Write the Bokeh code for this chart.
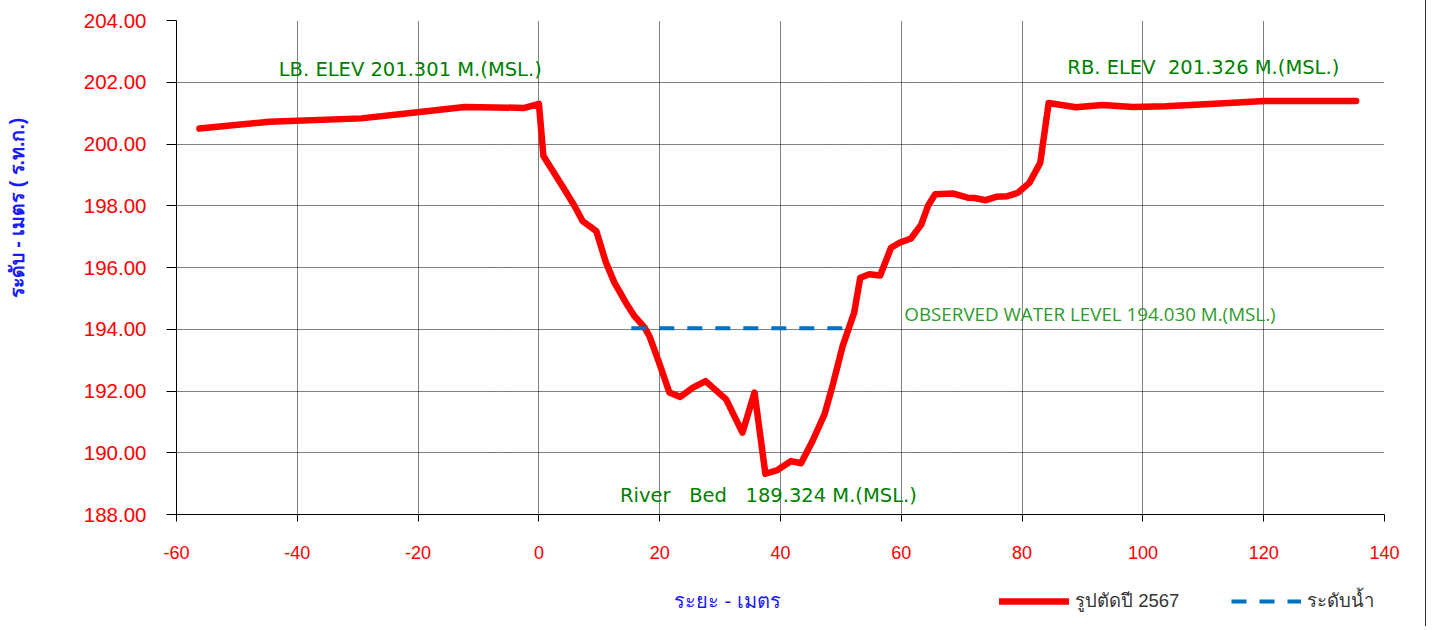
from bokeh.plotting import figure
from bokeh.layouts import column
from bokeh.models import Range1d, Label, Legend, LegendItem, NumeralTickFormatter, FixedTicker
from bokeh.embed import file_html
from bokeh.resources import INLINE

# ---- data ----
section_x = [-56.2, -44.6, -29.4, -20.1, -12.3, -2.4, 0.0, 0.75, 3.9, 5.9, 7.25, 9.5, 11.1, 12.5,
             14.4, 15.8, 17.5, 18.3, 19.9, 21.6, 23.4, 25.5, 27.6, 31.0, 33.7, 35.7, 37.5, 39.5,
             41.75, 43.4, 45.3, 47.3, 48.6, 50.3, 52.2, 53.2, 54.7, 56.5, 58.3, 59.7, 61.6, 63.3,
             64.4, 65.6, 68.5, 71.0, 72.1, 74.0, 75.7, 77.6, 79.3, 81.2, 83.0, 84.4, 88.9, 93.3,
             98.3, 103.8, 112.7, 120.1, 135.3]
section_y = [200.50, 200.72, 200.83, 201.03, 201.20, 201.17, 201.30, 199.61, 198.63, 197.99,
             197.50, 197.18, 196.16, 195.51, 194.86, 194.43, 194.05, 193.78, 192.92, 191.95,
             191.81, 192.11, 192.32, 191.73, 190.65, 191.95, 189.32, 189.44, 189.73, 189.66,
             190.38, 191.25, 192.16, 193.46, 194.54, 195.67, 195.78, 195.74, 196.64, 196.80,
             196.94, 197.39, 197.99, 198.37, 198.40, 198.26, 198.25, 198.18, 198.29, 198.31,
             198.42, 198.74, 199.39, 201.33, 201.19, 201.26, 201.20, 201.22, 201.31, 201.39,
             201.39]
water_x = [15.3, 51.0]
water_y = [194.03, 194.03]
x_ticks = [-60, -40, -20, 0, 20, 40, 60, 80, 100, 120, 140]
y_ticks = [188, 190, 192, 194, 196, 198, 200, 202, 204]
series_names = ["รูปตัดปี 2567", "ระดับน้ำ"]
x_title = "ระยะ - เมตร"
y_title = "ระดับ - เมตร ( ร.ท.ก.)"

NB = "\u00a0"
# annotations: (x, y, text)
lb_note = (-21.3, 202.41, "LB. ELEV 201.301 M.(MSL.)")
rb_note = (110.0, 202.48, "RB. ELEV" + NB + NB + "201.326 M.(MSL.)")
wl_note = (60.5, 194.48, "OBSERVED WATER LEVEL 194.030 M.(MSL.)")
bed_note = (38.0, 188.62, "River" + NB * 3 + "Bed" + NB * 3 + "189.324 M.(MSL.)")
x_title_pos = (31.2, 26)

W = 1426
p = figure(width=W, height=574, output_backend="svg", toolbar_location=None,
           x_range=Range1d(-60, 140), y_range=Range1d(188, 204),
           min_border_left=176, min_border_right=W - 176 - 1208, min_border_top=20,
           min_border_bottom=60)
p.styles = {"border-right": "1px solid #333333"}
p.outline_line_color = None
p.background_fill_color = "white"

for ax in (p.xaxis[0], p.yaxis[0]):
    ax.axis_line_color = "black"
    ax.axis_line_width = 1
    ax.major_tick_line_color = "black"
    ax.minor_tick_line_color = None
    ax.major_tick_in = 0
    ax.major_label_text_color = "#ff0000"
    ax.major_label_text_font = "Liberation Sans"

p.xaxis[0].ticker = FixedTicker(ticks=x_ticks)
p.yaxis[0].ticker = FixedTicker(ticks=y_ticks)
p.xaxis[0].formatter = NumeralTickFormatter(format="0")
p.yaxis[0].formatter = NumeralTickFormatter(format="0.00")
p.xaxis[0].major_tick_out = 7
p.yaxis[0].major_tick_out = 10
p.xaxis[0].major_label_standoff = 24
p.yaxis[0].major_label_standoff = 20
p.xaxis[0].major_label_text_font_size = "18px"
p.yaxis[0].major_label_text_font_size = "20.5px"

# y axis title (leading no-break spaces move it up from the centre, as in the original)
p.yaxis[0].axis_label = NB * 22 + y_title
p.yaxis[0].axis_label_standoff = 53
p.yaxis[0].axis_label_text_color = "#1a1aff"
p.yaxis[0].axis_label_text_font_style = "bold"
p.yaxis[0].axis_label_text_font_size = "19.5px"
p.yaxis[0].axis_label_text_font = "Liberation Sans"

p.xgrid[0].ticker = FixedTicker(ticks=x_ticks)
p.ygrid[0].ticker = FixedTicker(ticks=y_ticks)
for g in (p.xgrid[0], p.ygrid[0]):
    g.grid_line_color = "#000000"
    g.grid_line_dash = "1 1"
    g.grid_line_width = 1

r1 = p.line(section_x, section_y, line_color="#ff0000", line_width=6.5,
            line_cap="round", line_join="round")
r2 = p.line(water_x, water_y, line_color="#0070c0", line_width=4, line_dash="15 13")

green = "#008000"
for (x, y, t) in (lb_note, rb_note, bed_note):
    p.add_layout(Label(x=x, y=y, text=t, text_align="center", text_baseline="middle",
                       text_color=green, text_font="DejaVu Sans", text_font_size="19.5px"))
p.add_layout(Label(x=wl_note[0], y=wl_note[1], text=wl_note[2], text_align="left",
                   text_baseline="middle", text_color="#2e9a2e", text_font="Open Sans",
                   text_font_size="18.8px"))

# bottom strip: x title + legend (frame aligned with the main plot)
q = figure(width=W, height=52, output_backend="svg", toolbar_location=None,
           x_range=p.x_range, y_range=Range1d(0, 52),
           x_axis_type=None, y_axis_type=None,
           min_border_left=176, min_border_right=W - 176 - 1208, min_border_top=0,
           min_border_bottom=0)
q.styles = {"border-right": "1px solid #333333"}
q.outline_line_color = None
q.xgrid.visible = False
q.ygrid.visible = False
q.add_layout(Label(x=x_title_pos[0], y=x_title_pos[1], text=x_title, text_align="center",
                   text_baseline="middle", text_color="#1a1aff", text_font_size="20px"))
nan = float("nan")
k1 = q.line(x=[nan], y=[nan], line_color="#ff0000", line_width=6.5, line_cap="round")
k2 = q.line(x=[nan], y=[nan], line_color="#0070c0", line_width=4, line_dash="15 13")
legend = Legend(items=[LegendItem(label=series_names[0], renderers=[k1]),
                       LegendItem(label=series_names[1], renderers=[k2])],
                orientation="horizontal", location=(823, 11),
                glyph_width=70, glyph_height=20, label_standoff=6, spacing=52,
                padding=0, margin=0, border_line_color=None, background_fill_alpha=0,
                label_text_font_size="18.5px", label_text_color="#333333")
q.add_layout(legend, "center")

layout = column(p, q, spacing=0)
open("out.html", "w").write(file_html(layout, INLINE))
